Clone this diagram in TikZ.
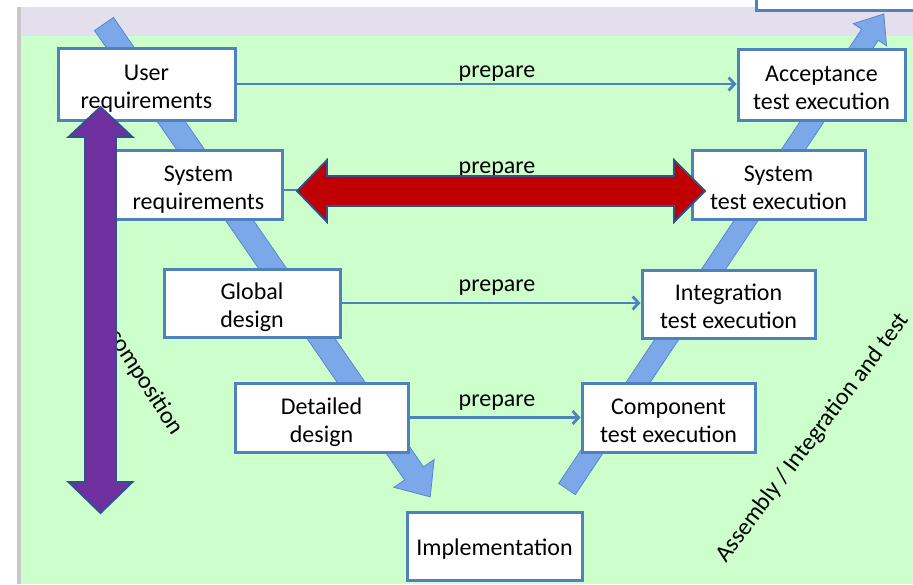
\documentclass[tikz,border=0pt]{standalone}
\usepackage{fontspec}
\setmainfont{Carlito}
\usetikzlibrary{arrows.meta}

\definecolor{bggreen}{RGB}{204,255,204}
\definecolor{bglav}{RGB}{228,223,236}
\definecolor{edgegray}{RGB}{200,200,200}
\definecolor{boxblue}{RGB}{79,129,189}
\definecolor{bandfill}{RGB}{124,168,234}
\definecolor{bandedge}{RGB}{88,135,205}
\definecolor{redfill}{RGB}{192,0,0}
\definecolor{purplefill}{RGB}{112,48,160}
\definecolor{arrowedge}{RGB}{47,82,143}

% two centred lines with fixed outer height/depth, so every box sets its text alike
\newcommand\stagetext[2]{\rule{0pt}{27pt}#1\\#2\rule[-6pt]{0pt}{6pt}}

\begin{document}
\begin{tikzpicture}[x=1pt,y=-1pt,
  font=\fontsize{24}{28}\selectfont,
  stage/.style={draw=boxblue, line width=3pt, fill=white, align=center,
    minimum width=173pt, minimum height=69pt, inner sep=0pt},
  prep/.style={draw=boxblue, line width=2.8pt,
    -{Straight Barb[length=6pt,width=13pt]}},
  preplabel/.style={anchor=base, inner sep=0pt},
  band/.style={draw=bandedge, line width=0.8pt, fill=bandfill},
  fatarrow/.style={draw=arrowedge, line width=1.8pt, line join=miter},
]
\useasboundingbox (0,0) rectangle (913,584);

% page background: margin, frame line, title strip and green field
\fill[white] (0,0) rectangle (913,584);
\fill[edgegray] (17,7) rectangle (21,584);
\fill[bglav] (21,7) rectangle (913,36);
\fill[bggreen] (21,36) rectangle (913,584);

% box cut by the top edge
\draw[boxblue, line width=3pt, fill=white] (756,-20) rectangle (930,10);

% descending branch of the V
\begin{scope}[shift={(104,24)}, rotate=-55.4]
  \filldraw[band] (0,-11.5) -- (546,-11.5) -- (546,-24.5) -- (574.5,0)
    -- (546,24.5) -- (546,11.5) -- (0,11.5) -- cycle;
\end{scope}
% ascending branch of the V
\begin{scope}[shift={(567,489)}, rotate=56.3]
  \filldraw[band] (0,-10) -- (546,-10) -- (546,-20) -- (571,0)
    -- (546,20) -- (546,10) -- (0,10) -- cycle;
\end{scope}

% side captions
\node[rotate=-57, inner sep=0pt] (decomp) at (138,371) {Decomposition};
\node[rotate=53, inner sep=0pt] (assembly) at (813,438) {Assembly / Integration and test};

% stages
\node[stage, minimum width=177pt, minimum height=72pt] (ureq) at (146.5,84) {\stagetext{User}{requirements}};
\node[stage, minimum width=167pt, minimum height=71pt] (acc) at (821.5,84.5) {\stagetext{Acceptance}{test execution}};
\node[stage, minimum width=167pt] (sreq) at (198.5,184.5) {\stagetext{System}{requirements}};
\node[stage] (stest) at (778.5,185) {\stagetext{System}{test execution}};
\node[stage, minimum width=176pt, minimum height=68pt] (gdes) at (252,303) {\stagetext{Global}{design}};
\node[stage, minimum height=68pt] (itest) at (728.5,304) {\stagetext{Integration}{test execution}};
\node[stage] (ddes) at (321.5,417.5) {\stagetext{Detailed}{design}};
\node[stage] (ctest) at (668.5,417.5) {\stagetext{Component}{test execution}};
\node[stage, minimum width=175pt, minimum height=68pt] (impl) at (494.5,546) {\rule{0pt}{24pt}Implementation\rule[-6pt]{0pt}{6pt}};

% "prepare" links between the two branches
\coordinate (redmid) at (501,190);
\draw[prep] (ureq.east) -- (ureq.east -| acc.west);
\draw[prep] (sreq.east |- redmid) -- (stest.west |- redmid);
\draw[prep] (gdes.east) -- (gdes.east -| itest.west);
\draw[prep] (ddes.east) -- (ddes.east -| ctest.west);
\node[preplabel] (p1) at (497,77) {prepare};
\node[preplabel] (p2) at (497,173) {prepare};
\node[preplabel] (p3) at (497,291) {prepare};
\node[preplabel] (p4) at (497,406) {prepare};

% vertical purple double arrow
\filldraw[fatarrow, fill=purplefill]
  (100.5,107) -- (132.5,137) -- (116,137) -- (116,482) -- (132.5,482)
  -- (100.5,513) -- (68.5,482) -- (85,482) -- (85,137) -- (68.5,137) -- cycle;

% horizontal red double arrow
\filldraw[fatarrow, fill=redfill]
  (297,191) -- (327,160) -- (327,176) -- (674,176) -- (674,160)
  -- (705,191) -- (674,222) -- (674,206) -- (327,206) -- (327,222) -- cycle;
\end{tikzpicture}
\end{document}
